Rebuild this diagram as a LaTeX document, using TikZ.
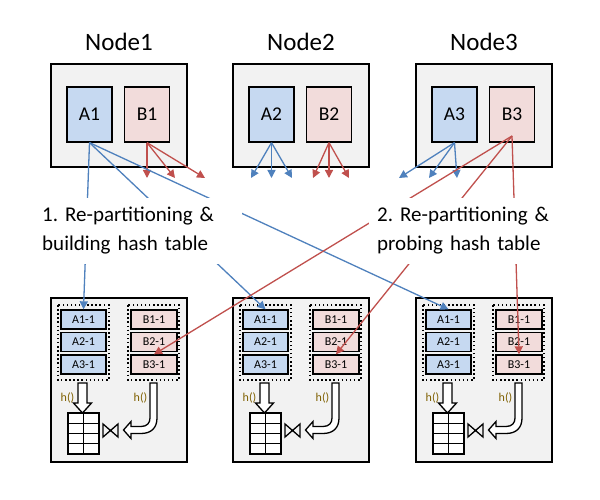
\documentclass[tikz,border=0pt]{standalone}
\usepackage{fontspec}
\setmainfont{Carlito}
\usetikzlibrary{arrows.meta}
\definecolor{boxgray}{HTML}{F2F2F2}
\definecolor{ablue}{HTML}{C6D9F1}
\definecolor{bpink}{HTML}{F2DCDB}
\definecolor{lblue}{HTML}{4F81BD}
\definecolor{lred}{HTML}{C0504D}
\definecolor{hbrown}{HTML}{7F6000}
\newcommand\mylabfont{\fontsize{21}{29}\selectfont\frenchspacing\spaceskip=0.42em plus 0.1em\relax}
\begin{document}
\begin{tikzpicture}[x=1pt,y=-1pt,
  bigbox/.style={draw=black, line width=1.3pt, fill=boxgray, minimum width=136pt, inner sep=0pt},
  abox/.style={draw=black, line width=1.3pt, fill=ablue, minimum width=45pt, minimum height=55pt, inner sep=0pt, font=\fontsize{19.5}{20}\selectfont},
  bbox/.style={abox, fill=bpink},
  sabox/.style={draw=black, line width=1.3pt, fill=ablue, minimum width=45pt, minimum height=19pt, inner sep=0pt, font=\fontsize{12}{12}\selectfont},
  sbbox/.style={sabox, fill=bpink, minimum width=46pt},
  group/.style={draw=black, line width=1.6pt, dash pattern=on 1.5pt off 2.6pt},
  thick1/.style={draw=black, line width=1.3pt},
  hlab/.style={text=hbrown, font=\fontsize{12}{12}\selectfont, inner sep=0pt},
  title/.style={font=\fontsize{25}{26}\selectfont, anchor=base, inner sep=0pt},
  arr/.style={line width=1.3pt, -{Triangle[length=8pt,width=8pt]}},
  barr/.style={arr, draw=lblue, color=lblue},
  rarr/.style={arr, draw=lred, color=lred},
  lab/.style={fill=white, inner xsep=8pt, inner ysep=0pt, minimum height=66pt, text width=192pt, align=left, anchor=west, font=\mylabfont}
]
\useasboundingbox (0,0) rectangle (600,500);
\fill[white] (0,0) rectangle (600,500);

\foreach \i/\L in {1/51, 2/233, 3/416} {
  % titles
  \node[title] (title\i) at (\L+68, 51) {Node\i};
  % top boxes
  \node[bigbox, minimum height=103pt] (top\i) at (\L+68, 115.5) {};
  \node[abox] (a\i) at (\L+38.5, 114.5) {A\i};
  \node[bbox] (b\i) at (\L+96, 114.5) {B\i};
  % bottom boxes
  \node[bigbox, minimum height=164pt] (bot\i) at (\L+68, 380) {};
  \draw[group] (\L+7, 305) rectangle (\L+58, 380);
  \draw[group] (\L+77, 305) rectangle (\L+128, 380);
  \node[sabox] (p\i a1) at (\L+32.5, 319.5) {A1-1};
  \node[sabox] (p\i a2) at (\L+32.5, 342) {A2-1};
  \node[sabox] (p\i a3) at (\L+32.5, 364.5) {A3-1};
  \node[sbbox] (p\i b1) at (\L+103, 319.5) {B1-1};
  \node[sbbox] (p\i b2) at (\L+103, 342) {B2-1};
  \node[sbbox] (p\i b3) at (\L+103, 364.5) {B3-1};
  \node[hlab] (hl\i) at (\L+16.5, 398) {h()};
  \node[hlab] (hr\i) at (\L+89.5, 398) {h()};
  % hash table
  \draw[thick1, fill=white] (\L+17, 413) rectangle (\L+48, 454);
  \draw[thick1] (\L+32.5, 413) -- (\L+32.5, 454)
    (\L+17, 423.25) -- (\L+48, 423.25)
    (\L+17, 433.5) -- (\L+48, 433.5)
    (\L+17, 443.75) -- (\L+48, 443.75);
  % bowtie
  \draw[thick1, line join=miter] (\L+52,424) -- (\L+67,437) -- (\L+67,424) -- (\L+52,437) -- cycle;
  % straight hollow arrow
  \draw[thick1, fill=white, line join=miter] (\L+27,383) -- (\L+36,383) -- (\L+36,403) -- (\L+40.5,403)
    -- (\L+31.5,413) -- (\L+22.5,403) -- (\L+27,403) -- cycle;
  % curved hollow arrow
  \draw[thick1, fill=white, line join=miter] (\L+106,383) -- (\L+106,418)
    .. controls (\L+106,428) and (\L+100,433.5) .. (\L+90,433.5)
    -- (\L+80,433.5) -- (\L+80,438.5) -- (\L+72.5,430) -- (\L+80,421.5) -- (\L+80,426.5)
    -- (\L+90,426.5) .. controls (\L+96,426.5) and (\L+99,423) .. (\L+99,418)
    -- (\L+99,383) -- cycle;
}

% free ends of the short arrows
\coordinate (e1) at (147,178); \coordinate (e2) at (175,178); \coordinate (e3) at (205,178);
\coordinate (f1) at (251,178); \coordinate (f2) at (271.5,178); \coordinate (f3) at (292,178);
\coordinate (g1) at (313,178); \coordinate (g2) at (329,178); \coordinate (g3) at (349,178);
\coordinate (h1) at (399,178); \coordinate (h2) at (429,178); \coordinate (h3) at (457,178);
\coordinate (b3o) at (512,136);

\foreach \t in {e1,e2,e3} \draw[rarr] (b1.south) -- (\t);
\foreach \t in {f1,f2,f3} \draw[barr] (a2.south) -- (\t);
\foreach \t in {g1,g2,g3} \draw[rarr] (b2.south) -- (\t);
\foreach \t in {h1,h2,h3} \draw[barr] (a3.south) -- (\t);

% long re-partitioning connectors
\foreach \k in {1,2,3} \draw[barr] (a1.south) -- (p\k a1.north);
\foreach \k in {1,2,3} \draw[rarr] (b3o) -- (p\k b3.north);

% labels
\node[lab] (lab1) at (34, 230.5) {1. Re-partitioning \&\\building hash table};
\node[lab] (lab2) at (369, 230.5) {2. Re-partitioning \&\\probing hash table};
\end{tikzpicture}
\end{document}
